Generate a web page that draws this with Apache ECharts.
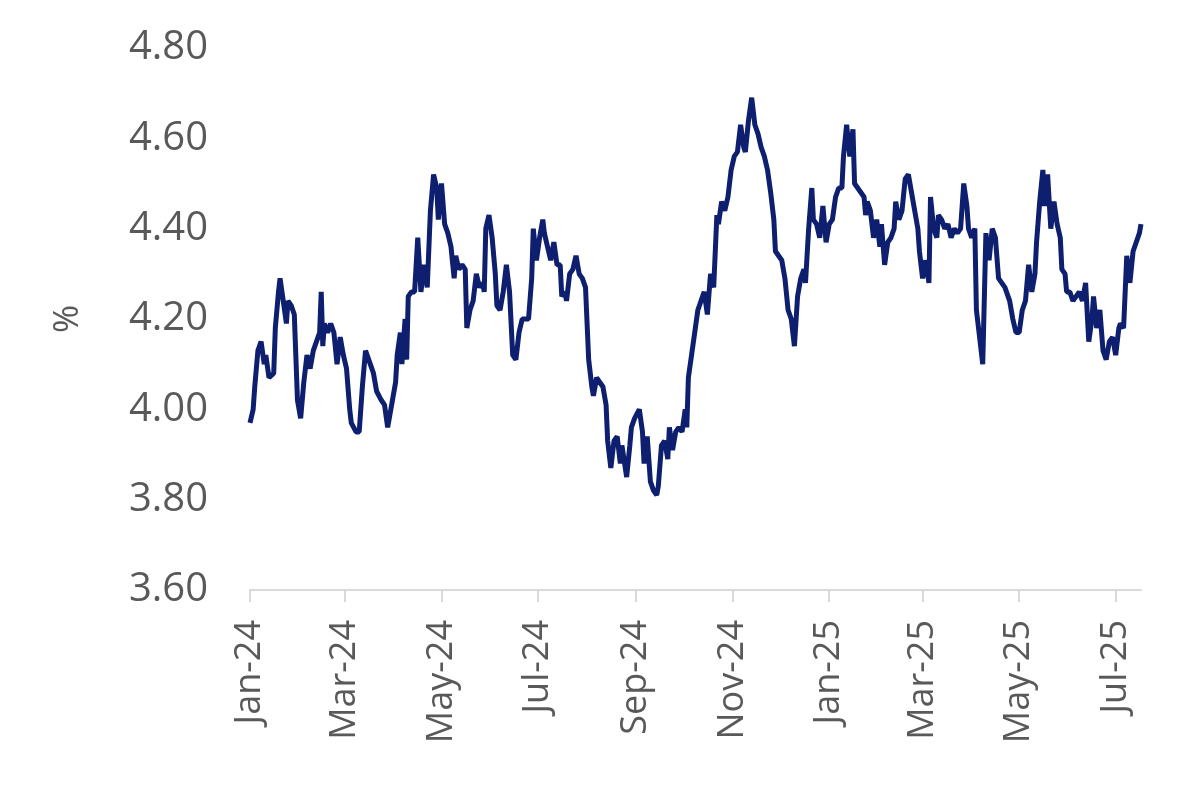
<!DOCTYPE html>
<html>
<head>
<meta charset="utf-8">
<script src="https://cdn.jsdelivr.net/npm/echarts@6/dist/echarts.min.js"></script>
<style>html,body{margin:0;padding:0;background:#fff}#chart{width:1193px;height:792px}</style>
</head>
<body>
<div id="chart"></div>
<script>
// days since 1 Jan 2024
var days = [0,2,3,5,7,9,10,12,15,16,18,19,21,23,24,26,28,30,32,34,36,38,40,42,44,45,46,47,49,51,53,55,57,59,61,63,64,67,69,71,73,76,78,80,83,85,87,89,92,93,95,96,98,99,100,102,104,106,108,110,112,114,116,118,119,121,123,125,127,129,130,132,134,136,137,139,141,143,145,147,148,149,151,153,155,156,158,160,162,164,166,168,170,172,174,176,178,179,181,183,185,186,188,190,192,194,196,197,199,200,202,204,206,208,210,212,214,216,217,219,221,223,225,226,228,230,232,234,235,238,240,241,243,246,248,249,251,253,255,257,258,260,262,264,265,267,269,271,273,275,276,277,279,281,283,285,287,289,291,293,295,296,298,300,302,304,306,308,310,312,313,315,317,319,321,323,325,327,329,331,332,334,336,338,340,342,344,346,348,350,351,353,355,356,358,360,362,364,366,368,370,372,374,375,377,379,381,382,384,386,388,389,390,392,394,396,398,399,401,403,405,407,408,410,412,414,416,418,420,422,423,425,427,429,430,432,434,435,437,439,441,443,445,447,449,451,453,454,456,458,459,461,463,465,467,469,471,473,475,477,478,480,482,484,486,488,490,492,494,496,497,499,501,502,504,506,508,510,512,513,515,516,518,520,522,524,526,528,530,532,533,535,537,539,541,543,545,547,549,550,552,554,556,558,560,562,563];
var yields = [3.97,4.00,4.05,4.13,4.15,4.10,4.12,4.07,4.08,4.18,4.26,4.29,4.24,4.19,4.24,4.23,4.21,4.02,3.98,4.06,4.12,4.09,4.13,4.15,4.17,4.26,4.14,4.19,4.17,4.19,4.17,4.10,4.16,4.12,4.09,4.00,3.97,3.95,3.95,4.05,4.13,4.10,4.08,4.04,4.02,4.01,3.96,4.00,4.06,4.12,4.17,4.10,4.20,4.11,4.25,4.26,4.26,4.38,4.26,4.32,4.27,4.44,4.52,4.49,4.42,4.50,4.41,4.39,4.36,4.29,4.34,4.31,4.32,4.31,4.18,4.22,4.24,4.30,4.27,4.28,4.26,4.40,4.43,4.38,4.30,4.23,4.22,4.26,4.32,4.26,4.12,4.11,4.17,4.20,4.20,4.20,4.29,4.40,4.33,4.38,4.42,4.39,4.36,4.33,4.37,4.32,4.32,4.25,4.26,4.24,4.30,4.31,4.34,4.30,4.29,4.27,4.11,4.05,4.03,4.07,4.06,4.05,4.01,3.93,3.87,3.93,3.94,3.88,3.92,3.85,3.92,3.96,3.98,4.00,3.95,3.88,3.94,3.84,3.82,3.81,3.83,3.92,3.93,3.89,3.96,3.91,3.95,3.96,3.95,4.00,3.96,4.07,4.12,4.17,4.22,4.24,4.26,4.21,4.30,4.27,4.43,4.41,4.46,4.44,4.47,4.53,4.56,4.57,4.63,4.58,4.57,4.64,4.69,4.63,4.61,4.58,4.56,4.53,4.48,4.42,4.35,4.34,4.33,4.29,4.22,4.20,4.14,4.25,4.29,4.31,4.28,4.40,4.49,4.42,4.41,4.38,4.45,4.37,4.41,4.42,4.47,4.49,4.49,4.56,4.63,4.56,4.62,4.50,4.49,4.48,4.47,4.43,4.46,4.44,4.38,4.42,4.36,4.41,4.32,4.37,4.38,4.40,4.46,4.42,4.44,4.51,4.52,4.48,4.44,4.40,4.35,4.29,4.33,4.28,4.47,4.40,4.38,4.43,4.42,4.40,4.41,4.38,4.40,4.39,4.40,4.50,4.45,4.40,4.38,4.40,4.22,4.16,4.10,4.39,4.33,4.40,4.38,4.29,4.28,4.27,4.26,4.24,4.20,4.17,4.17,4.22,4.24,4.32,4.26,4.30,4.37,4.46,4.53,4.45,4.52,4.40,4.46,4.41,4.38,4.31,4.30,4.26,4.26,4.24,4.25,4.26,4.24,4.28,4.15,4.20,4.25,4.18,4.22,4.13,4.11,4.15,4.16,4.12,4.18,4.19,4.18,4.34,4.28,4.35,4.37,4.39,4.41];
var tickDays = [0,60,121,182,244,305,366,425,486,547];
var tickLabels = ['Jan-24','Mar-24','May-24','Jul-24','Sep-24','Nov-24','Jan-25','Mar-25','May-25','Jul-25'];

var chart = echarts.init(document.getElementById('chart'));
var font = 'Open Sans';
chart.setOption({
  animation: false,
  grid: {left: 250, right: 52, top: 48, bottom: 202},
  xAxis: {
    type: 'value', min: 0, max: 563,
    splitLine: {show: false},
    axisLine: {show: true, onZero: false, lineStyle: {color: '#d9d9d9', width: 2}},
    axisTick: {show: true, customValues: tickDays, length: 12, lineStyle: {color: '#d9d9d9', width: 2}},
    axisLabel: {
      customValues: tickDays, rotate: 90, fontSize: 36, fontFamily: font, color: '#595959', margin: 30,
      formatter: function (v) { return tickLabels[tickDays.indexOf(v)]; }
    }
  },
  yAxis: {
    type: 'value', min: 3.6, max: 4.8, interval: 0.2,
    name: '%', nameLocation: 'middle', nameGap: 165, nameRotate: 90,
    nameTextStyle: {fontSize: 34, fontFamily: font, color: '#595959'},
    splitLine: {show: false}, axisLine: {show: false}, axisTick: {show: false},
    axisLabel: {fontSize: 40, fontFamily: font, color: '#595959', margin: 42,
      formatter: function (v) { return v.toFixed(2); }}
  },
  series: [{
    type: 'line', showSymbol: false,
    data: days.map(function (d, i) { return [d, yields[i]]; }),
    lineStyle: {color: '#0d1f6e', width: 5}
  }]
});
</script>
</body>
</html>
